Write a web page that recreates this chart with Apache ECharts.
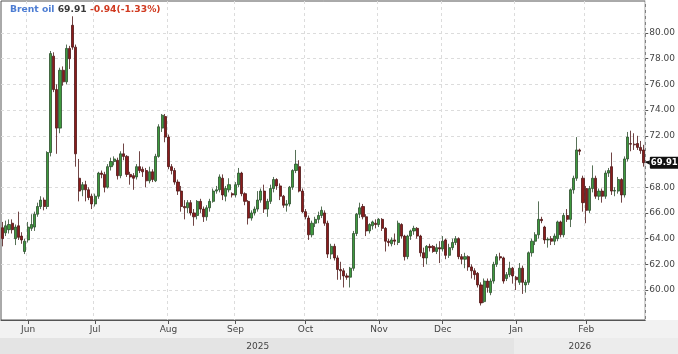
<!DOCTYPE html>
<html><head><meta charset="utf-8">
<script src="https://cdn.jsdelivr.net/npm/echarts@6/dist/echarts.min.js"></script>
<style>html,body{margin:0;padding:0;background:#fff}#c{width:678px;height:354px}</style>
</head><body><div id="c"></div>
<script>
const seriesName = 'Brent oil';
const opens = [64.85,64.45,64.7,65.2,64.0,65.0,64.2,63.0,63.9,64.8,
64.9,65.9,66.5,67.0,66.5,70.7,78.2,75.6,72.6,77.1,
76.2,78.8,80.6,78.9,68.7,67.8,68.2,67.8,67.3,66.7,
67.3,69.1,69.0,68.0,69.6,70.0,70.1,68.9,70.6,70.4,
69.0,68.9,68.8,69.6,69.4,69.3,68.5,69.2,68.5,70.4,
72.6,73.5,71.9,69.6,69.3,68.4,67.7,66.5,66.4,66.8,
66.0,65.8,66.9,66.3,65.7,66.4,66.9,67.7,67.8,68.7,
67.3,67.8,67.5,67.4,68.2,69.1,67.5,66.9,65.6,66.0,
66.3,67.0,67.7,66.3,66.9,67.9,68.6,68.1,67.3,66.6,
66.7,68.0,69.3,69.6,67.7,66.1,65.6,64.3,65.2,65.5,
65.8,66.0,65.2,62.8,63.4,62.5,61.6,61.5,61.1,61.0,
61.7,64.4,65.9,66.5,65.7,64.6,65.0,65.2,65.1,65.5,
64.8,63.8,63.6,63.9,63.7,65.1,64.2,62.6,64.2,64.6,
64.8,64.2,62.9,62.5,63.4,63.4,63.0,63.3,63.2,63.9,
62.7,63.3,63.7,64.0,62.6,62.4,62.6,61.8,61.5,61.3,
60.4,59.1,60.7,59.8,60.7,62.0,62.6,62.5,60.9,61.2,
61.7,61.0,60.6,61.7,60.4,60.6,62.9,63.8,64.3,65.5,
64.9,63.9,64.0,63.8,64.0,65.3,64.3,65.8,65.5,67.8,
68.7,70.9,68.7,67.9,66.2,67.9,68.7,67.3,67.7,67.3,
69.1,69.6,67.7,67.7,68.6,67.4,70.2,71.4,71.35,71.4,
71.1,70.9];
const closes = [64.0,65.0,65.1,64.7,64.9,64.1,63.9,63.8,64.9,65.1,
65.9,66.5,67.0,66.5,70.7,78.4,75.6,72.6,77.1,76.2,
78.8,78.0,78.9,70.6,67.7,68.2,67.8,67.2,66.7,67.3,
69.1,69.0,68.0,69.6,70.0,70.2,68.9,70.6,70.4,69.0,
68.8,68.7,69.6,69.3,69.2,68.5,69.2,68.6,70.4,72.7,
73.6,71.9,69.6,69.3,68.4,67.7,66.5,66.4,66.8,66.0,
65.7,66.9,66.3,65.7,66.4,66.9,67.7,67.8,68.8,67.4,
67.9,68.2,67.4,68.2,69.1,67.5,66.9,65.6,66.0,66.3,
67.0,67.7,66.3,66.9,67.9,68.6,68.1,67.3,66.6,66.7,
68.0,69.3,69.8,67.7,66.1,65.7,64.3,65.2,65.5,65.8,
66.2,65.2,62.8,63.4,62.5,61.6,61.5,61.1,61.0,61.7,
64.4,65.9,66.4,65.7,64.6,65.1,65.3,65.1,65.5,64.8,
63.8,63.7,63.9,63.8,65.2,64.2,62.6,64.2,64.6,64.8,
64.2,62.9,62.5,63.4,63.3,63.0,63.3,63.2,63.8,62.7,
63.3,63.7,64.0,62.6,62.4,62.6,61.8,61.5,61.2,60.4,
59.0,60.7,60.2,60.7,62.0,62.6,62.5,60.7,61.2,61.7,
61.1,60.8,61.7,60.6,60.6,62.9,63.8,64.3,65.5,65.4,
63.9,63.95,63.8,64.2,65.3,64.3,65.8,65.5,67.8,68.7,
70.9,70.8,66.8,66.2,67.9,68.7,67.3,67.7,67.3,69.1,
69.3,67.7,67.75,68.6,67.4,70.2,71.9,71.35,71.3,71.1,
70.85,69.91];
const lows = [63.4,64.2,64.4,64.4,63.5,63.9,63.6,62.8,63.7,64.6,
64.6,65.7,66.3,66.2,66.3,70.4,75.4,70.6,72.2,75.9,
76.0,77.2,78.7,69.6,66.9,67.3,66.9,67.0,66.3,66.5,
67.1,68.7,67.6,67.9,69.3,69.7,68.6,68.7,70.1,68.8,
68.2,67.8,68.6,69.1,68.8,68.0,68.3,68.4,68.4,70.3,
72.3,71.5,69.4,69.0,68.2,67.4,66.1,65.5,66.0,65.8,
65.0,65.5,66.0,65.3,65.4,66.1,66.8,67.5,67.6,67.0,
66.9,67.6,67.2,67.2,68.0,67.3,66.6,65.1,65.4,65.8,
66.1,66.8,66.0,65.7,66.7,67.6,67.8,67.0,66.4,66.1,
66.5,67.8,69.1,67.6,66.0,65.5,63.9,64.1,64.9,65.2,
65.6,65.0,62.5,62.4,62.3,60.8,60.8,60.2,60.8,60.2,
61.5,64.2,65.6,65.5,64.2,64.4,64.7,64.8,64.9,64.6,
63.0,63.4,63.4,63.5,63.5,64.0,62.3,62.4,63.9,64.3,
64.0,62.6,61.8,62.0,63.0,62.9,62.8,62.1,63.0,62.4,
62.5,63.1,63.5,62.4,62.0,61.7,61.5,60.9,60.8,60.2,
58.8,59.0,59.8,59.6,60.5,61.8,62.3,60.5,60.7,61.0,
60.5,60.0,60.4,59.7,59.8,60.4,62.6,63.5,64.0,65.2,
63.6,63.3,63.5,63.5,63.8,64.1,64.1,65.3,64.9,67.5,
68.5,70.5,66.1,65.2,66.0,67.6,67.1,67.0,66.8,67.1,
68.8,67.4,67.3,67.5,66.8,67.2,70.0,70.8,70.9,70.9,
70.6,69.6];
const highs = [65.3,65.4,65.5,65.5,65.1,66.1,64.5,64.0,65.3,65.9,
66.1,66.8,67.3,67.2,70.8,78.6,78.5,76.0,77.3,77.4,
79.1,79.0,81.3,79.1,70.2,68.4,68.5,68.0,67.5,67.5,
69.2,69.3,69.2,69.8,70.3,70.4,70.3,70.8,71.4,70.5,
69.2,69.1,69.8,70.8,69.6,69.5,69.6,69.4,70.6,72.9,
73.7,73.7,72.1,69.8,69.5,68.6,68.1,67.0,67.0,67.0,
66.3,67.0,67.1,66.5,66.6,67.1,67.9,68.1,69.0,69.0,
68.1,68.7,67.6,68.4,69.5,69.2,67.6,67.0,66.2,66.5,
67.7,67.9,68.2,67.1,68.2,68.8,68.7,68.3,67.4,67.0,
68.1,69.4,70.9,70.1,67.9,66.3,65.8,65.4,65.7,66.1,
66.5,66.2,65.4,63.6,63.6,62.7,62.2,61.7,61.3,61.8,
64.6,66.0,66.8,66.7,65.9,65.2,65.4,65.5,65.6,65.6,
64.9,64.0,64.1,64.4,65.4,65.2,64.3,64.3,64.7,65.0,
64.9,64.3,63.3,63.5,63.6,63.5,63.6,63.8,64.2,64.0,
63.6,64.0,64.2,64.1,62.8,62.9,62.7,62.0,61.7,61.4,
60.6,60.9,60.9,60.9,62.2,62.8,62.9,62.6,61.4,62.2,
61.8,61.1,62.1,61.9,60.8,63.0,64.0,64.5,66.9,65.7,
65.0,64.1,64.2,64.4,65.4,65.4,66.0,66.3,67.9,68.9,
71.9,71.0,68.9,68.1,68.1,69.7,68.9,67.9,67.9,69.3,
69.5,70.7,68.0,68.8,68.7,70.4,72.3,72.4,72.2,72.0,
71.6,71.3];
const yTicks = [60,62,64,66,68,70,72,74,76,78,80];
const yMin = 57.67, yMax = 82.49;
const monthNames = ['Jan','Feb','Mar','Apr','May','Jun','Jul','Aug','Sep','Oct','Nov','Dec'];
const firstSession = '2025-05-21';

// trading-day (weekday) categories
const dates = [];
for (let d = new Date(firstSession + 'T00:00:00Z'); dates.length < opens.length; d.setUTCDate(d.getUTCDate() + 1)) {
  const wd = d.getUTCDay();
  if (wd !== 0 && wd !== 6) dates.push(d.toISOString().slice(0, 10));
}
const isMonthStart = dates.map((s, i) => i > 0 && s.slice(5, 7) !== dates[i - 1].slice(5, 7));
const yearRanges = {};
dates.forEach((s, i) => { const y = s.slice(0, 4); if (!yearRanges[y]) yearRanges[y] = [i, i]; yearRanges[y][1] = i; });
const yearMid = new Set(Object.values(yearRanges).map(r => Math.round((r[0] + r[1]) / 2)));
const candles = dates.map((_, i) => [opens[i], closes[i], lows[i], highs[i]]);

const last = closes[closes.length - 1], prev = closes[closes.length - 2];
const chg = last - prev, pct = chg / prev * 100;
const fmtSigned = v => (v < 0 ? '-' : '+') + Math.abs(v).toFixed(2);

const FONT = 'DejaVu Sans';
const chart = echarts.init(document.getElementById('c'), null, { renderer: 'canvas' });
const option = {
  animation: false,
  backgroundColor: '#ffffff',
  title: {
    left: 5, top: 0,
    text: '{a|' + seriesName + '} {b|' + last.toFixed(2) + '} {c|' + fmtSigned(chg) + '(' + fmtSigned(pct) + '%)}',
    textStyle: {
      fontFamily: FONT, fontSize: 9.2, fontWeight: 'bold',
      rich: {
        a: { color: '#4d7dd3', fontFamily: FONT, fontSize: 9.2, fontWeight: 'bold' },
        b: { color: '#3a3a3a', fontFamily: FONT, fontSize: 9.2, fontWeight: 'bold' },
        c: { color: '#d0391f', fontFamily: FONT, fontSize: 9.2, fontWeight: 'bold' }
      }
    }
  },
  grid: { left: 1, top: 1, right: 32, bottom: 34, show: true, borderColor: '#555', borderWidth: 1, backgroundColor: '#fff' },
  xAxis: [{
    type: 'category', data: dates, boundaryGap: true,
    axisLine: { show: true, lineStyle: { color: '#555', width: 1 } },
    axisTick: { show: true, interval: i => isMonthStart[i], alignWithLabel: true, length: 4, lineStyle: { color: '#555' } },
    axisLabel: { interval: i => isMonthStart[i], formatter: v => monthNames[+v.slice(5, 7) - 1], fontFamily: FONT, fontSize: 9, color: '#444', margin: 5 },
    splitLine: { show: true, interval: i => isMonthStart[i], lineStyle: { color: '#dcdcdc', type: [3, 3] } }
  }, {
    type: 'category', data: dates, boundaryGap: true, position: 'bottom', offset: 18,
    axisLine: { show: false }, axisTick: { show: false }, splitLine: { show: false },
    axisLabel: { interval: i => yearMid.has(i), formatter: v => v.slice(0, 4), fontFamily: FONT, fontSize: 9, color: '#444', margin: 4 }
  }],
  yAxis: {
    type: 'value', position: 'right', min: yMin, max: yMax, scale: true,
    axisLine: { show: false },
    axisTick: { show: true, length: 3, customValues: yTicks, lineStyle: { color: '#555' } },
    axisLabel: { customValues: yTicks, formatter: v => v.toFixed(2), fontFamily: FONT, fontSize: 9, color: '#444', margin: 4 },
    splitLine: { show: false }
  },
  series: [{
    // horizontal dashed grid lines at the tick values, kept behind the candles
    type: 'line', name: 'grid', xAxisIndex: 0, data: [], z: 1, silent: true,
    markLine: {
      silent: true, symbol: 'none', animation: false, z: 1,
      lineStyle: { color: '#dcdcdc', type: [3, 3], width: 1 },
      label: { show: false },
      data: yTicks.map(v => ({ yAxis: v }))
    }
  }, {
    type: 'candlestick', name: seriesName, xAxisIndex: 0, data: candles, z: 5,
    barWidth: 2.6,
    itemStyle: { color: '#3e9a3e', color0: '#8b1c1c', borderColor: '#2c4d2c', borderColor0: '#4d1515', borderWidth: 0.8 },
    markLine: {
      silent: true, symbol: 'none', animation: false,
      lineStyle: { color: 'rgba(0,0,0,0)', width: 0 },
      data: [{ yAxis: last }],
      label: {
        show: true, position: 'end', distance: 0,
        formatter: '{a|◀}{b|' + last.toFixed(2) + '}',
        rich: {
          a: { color: '#111', fontSize: 6, fontFamily: FONT, padding: [0, 0, 0, 0] },
          b: { backgroundColor: '#111', color: '#fff', fontFamily: FONT, fontSize: 8.5, fontWeight: 'bold', padding: [2, 1, 1, 1], borderRadius: 1 }
        }
      }
    }
  }]
};
chart.setOption(option);

// bottom bands (label band and year band), split at the first 2026 session
const firstNewYear = yearRanges['2026'][0];
const bandHalf = (chart.convertToPixel({ xAxisIndex: 0 }, dates[1]) - chart.convertToPixel({ xAxisIndex: 0 }, dates[0])) / 2;
const splitX = Math.round(chart.convertToPixel({ xAxisIndex: 0 }, dates[firstNewYear]) - bandHalf);
const H = 354, W = 678, plotBottom = H - 34;
chart.setOption({
  graphic: [
    { type: 'rect', z: -100, shape: { x: 0, y: plotBottom, width: W, height: 18 }, style: { fill: '#f2f2f2' } },
    { type: 'rect', z: -100, shape: { x: 0, y: plotBottom + 18, width: splitX, height: H - plotBottom - 18 }, style: { fill: '#e4e4e4' } },
    { type: 'rect', z: -100, shape: { x: splitX, y: plotBottom + 18, width: W - splitX, height: H - plotBottom - 18 }, style: { fill: '#ececec' } }
  ]
});
</script>
</body></html>
